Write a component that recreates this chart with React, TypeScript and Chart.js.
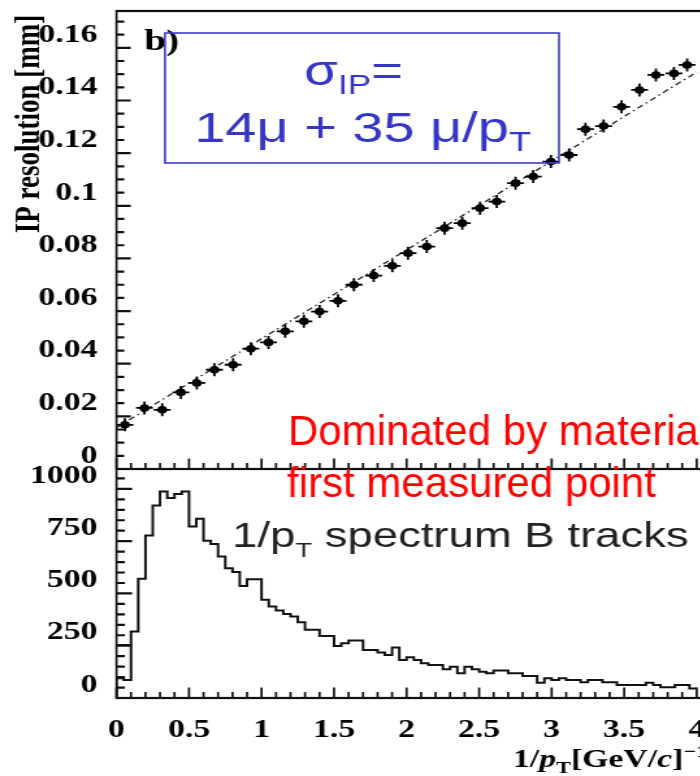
import React, { useEffect, useRef } from 'react';
import { Chart, registerables } from 'chart.js';

Chart.register(...registerables);

// The original figure is stretched horizontally; the canvas is drawn narrow and widened by CSS.
const STRETCH = 1.3;
const CANVAS_W = 600;
const CANVAS_H = 776;

// ---- Top panel: IP resolution [mm] vs 1/pT ----
const ipX = [0.058, 0.193, 0.315, 0.444, 0.554, 0.675, 0.804, 0.926, 1.048, 1.163, 1.292, 1.4, 1.527,
  1.637, 1.773, 1.902, 2.01, 2.139, 2.262, 2.384, 2.506, 2.622, 2.751, 2.873, 2.995, 3.12, 3.233,
  3.358, 3.482, 3.606, 3.719, 3.843, 3.934];
const ipY = [0.0168, 0.0232, 0.0225, 0.0291, 0.0327, 0.0377, 0.0396, 0.0457, 0.0481, 0.0523, 0.0561,
  0.0598, 0.0639, 0.07, 0.0735, 0.0772, 0.082, 0.0845, 0.0915, 0.0934, 0.0991, 0.1016, 0.1086, 0.1111,
  0.1168, 0.1193, 0.1291, 0.1303, 0.1376, 0.144, 0.1497, 0.1503, 0.1535];
const fitX = [0, 4.0];
const fitY = [0.0157, 0.1508];

// ---- Bottom panel: 1/pT spectrum of B tracks ----
const BIN_WIDTH = 0.05;
const trackCounts = [95, 86, 318, 570, 777, 921, 988, 956, 975, 988,
  820, 857, 752, 736, 677, 621, 602, 535, 568, 568,
  470, 437, 418, 402, 390, 362, 326, 326, 297, 297,
  249, 262, 275, 275, 230, 230, 217, 206, 241, 182,
  195, 182, 166, 158, 158, 137, 150, 118, 150, 137,
  126, 118, 131, 131, 118, 118, 105, 105, 73, 94,
  86, 94, 86, 86, 75, 86, 86, 75, 75, 62,
  62, 62, 62, 73, 62, 51, 51, 62, 62, 46];
const extraX = [0, 0.1];
const extraY = [254, 254];

// ---- Axis ranges and ticks ----
const X_MIN = 0, X_MAX = 4.5;
const IP_MIN = 0, IP_MAX = 0.174;
const COUNT_MIN = 0, COUNT_MAX = 1095;
const xTickValues = [0, 0.5, 1, 1.5, 2, 2.5, 3, 3.5, 4];
const xTickLabels = ['0', '0.5', '1', '1.5', '2', '2.5', '3', '3.5', '4'];
const ipTickValues = [0, 0.02, 0.04, 0.06, 0.08, 0.1, 0.12, 0.14, 0.16];
const ipTickLabels = ['0', '0.02', '0.04', '0.06', '0.08', '0.1', '0.12', '0.14', '0.16'];
const countTickValues = [0, 250, 500, 750, 1000];
const countTickLabels = ['0', '250', '500', '750', '1000'];

const X_MINOR = 0.1, X_MAJOR_EVERY = 5;
const IP_MINOR = 0.005, IP_MAJOR_EVERY = 4;
const COUNT_MINOR = 50, COUNT_MAJOR_EVERY = 5;

const SERIF = '"Liberation Serif", "Times New Roman", serif';
const SANS = '"Liberation Sans", Arial, sans-serif';

type Run = { t: string; f: string; dy?: number };
function drawRuns(ctx: CanvasRenderingContext2D, runs: Run[], x: number, y: number, center: boolean) {
  let w = 0;
  for (const r of runs) { ctx.font = r.f; w += ctx.measureText(r.t).width; }
  let cx = center ? x - w / 2 : x;
  ctx.textAlign = 'left';
  ctx.textBaseline = 'alphabetic';
  for (const r of runs) {
    ctx.font = r.f;
    ctx.fillText(r.t, cx, y + (r.dy || 0));
    cx += ctx.measureText(r.t).width;
  }
}

function minorValues(min: number, max: number, step: number): number[] {
  const out: number[] = [];
  const n = Math.floor((max - min) / step + 1e-6);
  for (let i = 0; i <= n; i++) out.push(min + i * step);
  return out;
}

const framePlugin = {
  id: 'framePlugin',
  afterDraw(chart: any) {
    const ctx: CanvasRenderingContext2D = chart.ctx;
    const xs = chart.scales.x, yt = chart.scales.yTop, yb = chart.scales.yBot;
    const area = chart.chartArea;
    const left = area.left, right = area.right;
    const topY = yt.top, midY = yt.bottom, botY = yb.bottom;
    ctx.save();
    ctx.setLineDash([]);
    // inward tick marks
    ctx.beginPath();
    minorValues(IP_MIN, IP_MAX, IP_MINOR).forEach((v, i) => {
      const py = yt.getPixelForValue(v);
      const len = i % IP_MAJOR_EVERY === 0 ? 11 : 6;
      ctx.rect(left, py - 1.1, len, 2.2);
    });
    minorValues(COUNT_MIN, COUNT_MAX, COUNT_MINOR).forEach((v, i) => {
      const py = yb.getPixelForValue(v);
      const len = i % COUNT_MAJOR_EVERY === 0 ? 12 : 6.5;
      ctx.rect(left, py - 1.1, len, 2.2);
    });
    minorValues(X_MIN, X_MAX, X_MINOR).forEach((v, i) => {
      const px = xs.getPixelForValue(v);
      const len = i % X_MAJOR_EVERY === 0 ? 10.5 : 6;
      ctx.rect(px - 0.85, midY - len, 1.7, len);
      ctx.rect(px - 0.85, botY - len, 1.7, len);
    });
    ctx.fillStyle = '#111';
    ctx.fill();
    // frame
    ctx.fillRect(left, topY - 1.1, right - left, 2.2);
    ctx.fillRect(left, midY - 1.1, right - left, 2.2);
    ctx.fillRect(left, botY - 1.1, right - left, 2.2);
    ctx.fillRect(left - 0.85, topY - 1.1, 1.7, botY - topY + 2.2);

    // y axis title
    ctx.fillStyle = '#000';
    ctx.save();
    ctx.translate(23, 124);
    ctx.rotate(-Math.PI / 2);
    ctx.font = `bold 27px ${SERIF}`;
    ctx.textAlign = 'center';
    ctx.textBaseline = 'middle';
    ctx.fillText('IP resolution [mm]', 0, 0);
    ctx.restore();
    // panel label
    ctx.font = `bold 30px ${SERIF}`;
    ctx.textAlign = 'left';
    ctx.textBaseline = 'alphabetic';
    ctx.fillText('b)', 111, 50);
    // blue box with parametrisation
    ctx.strokeStyle = '#3c3cc8';
    ctx.lineWidth = 1.6;
    ctx.strokeRect(126.9, 33, 303.1, 130);
    ctx.fillStyle = '#3535c8';
    drawRuns(ctx, [
      { t: 'σ', f: `42px ${SANS}` },
      { t: 'IP', f: `27px ${SANS}`, dy: 9 },
      { t: '=', f: `42px ${SANS}` },
    ], 272, 85, true);
    drawRuns(ctx, [
      { t: '14μ + 35 μ/p', f: `43px ${SANS}` },
      { t: 'T', f: `28px ${SANS}`, dy: 9 },
    ], 279, 142, true);
    // histogram caption
    ctx.fillStyle = '#222';
    drawRuns(ctx, [
      { t: '1/p', f: `35px ${SANS}` },
      { t: 'T', f: `21px ${SANS}`, dy: 10 },
      { t: ' spectrum B tracks', f: `35px ${SANS}` },
    ], 178.5, 547, false);
    // x axis title
    ctx.fillStyle = '#000';
    drawRuns(ctx, [
      { t: '1/', f: `bold 26px ${SERIF}` },
      { t: 'p', f: `italic bold 26px ${SERIF}` },
      { t: 'T', f: `bold 17px ${SERIF}`, dy: 6 },
      { t: '[GeV/', f: `bold 26px ${SERIF}` },
      { t: 'c', f: `italic bold 26px ${SERIF}` },
      { t: ']', f: `bold 26px ${SERIF}` },
      { t: '−1', f: `bold 17px ${SERIF}`, dy: -10 },
    ], 394.6, 767, false);
    // red annotation (added on top of the figure, not stretched)
    ctx.save();
    ctx.scale(1 / STRETCH, 1);
    ctx.fillStyle = '#ff0000';
    ctx.font = `42px ${SANS}`;
    ctx.textAlign = 'left';
    ctx.textBaseline = 'alphabetic';
    ctx.fillText('Dominated by material before', 288, 445);
    ctx.fillText('first measured point', 287, 497);
    ctx.restore();
    ctx.restore();
  },
};

const tickFont = { family: SERIF, size: 26, weight: 'bold' as const };

export default function App() {
  const ref = useRef<HTMLCanvasElement>(null);
  useEffect(() => {
    const ipPoints = ipX.map((x, i) => ({ x, y: ipY[i] }));
    const fitPoints = fitX.map((x, i) => ({ x, y: fitY[i] }));
    const histPoints = [{ x: 0, y: 0 }];
    trackCounts.forEach((c, i) => histPoints.push({ x: i * BIN_WIDTH, y: c }));
    histPoints.push({ x: trackCounts.length * BIN_WIDTH, y: trackCounts[trackCounts.length - 1] });
    const extraPoints = extraX.map((x, i) => ({ x, y: extraY[i] }));

    const chart = new Chart(ref.current!, {
      type: 'line',
      data: {
        datasets: [
          {
            data: ipPoints, yAxisID: 'yTop', showLine: false, pointStyle: 'circle',
            pointRadius: 3.8, pointBackgroundColor: '#000', pointBorderColor: '#000', pointBorderWidth: 0,
          },
          {
            data: ipPoints, yAxisID: 'yTop', showLine: false, pointStyle: 'cross',
            pointRadius: 6.5, pointBorderColor: '#000', pointBorderWidth: 1.8,
          },
          {
            data: fitPoints, yAxisID: 'yTop', borderColor: '#222', borderWidth: 1.3,
            borderDash: [5, 3, 1.5, 3], pointRadius: 0, fill: false,
          },
          {
            data: histPoints, yAxisID: 'yBot', stepped: 'before', borderColor: '#111',
            borderWidth: 2, pointRadius: 0, fill: false,
          },
          {
            data: extraPoints, yAxisID: 'yBot', borderColor: '#111',
            borderWidth: 2, pointRadius: 0, fill: false,
          },
        ],
      },
      options: {
        responsive: false,
        animation: false,
        events: [],
        layout: { padding: { top: 11, left: 0, right: 0, bottom: 0 } },
        plugins: { legend: { display: false }, tooltip: { enabled: false } },
        scales: {
          x: {
            type: 'linear', min: X_MIN, max: X_MAX,
            grid: { display: false }, border: { display: false },
            afterBuildTicks: (s: any) => { s.ticks = xTickValues.map((v) => ({ value: v })); },
            afterFit: (s: any) => { s.height = 78; s.paddingLeft = 0; s.paddingRight = 0; },
            ticks: {
              autoSkip: false, maxRotation: 0, padding: 9, color: '#000', font: tickFont,
              callback: (_v: any, i: number) => xTickLabels[i],
            },
          },
          yBot: {
            type: 'linear', position: 'left', stack: 'panels', stackWeight: 1,
            min: COUNT_MIN, max: COUNT_MAX,
            grid: { display: false }, border: { display: false },
            afterBuildTicks: (s: any) => { s.ticks = countTickValues.map((v) => ({ value: v })); },
            afterFit: (s: any) => { s.width = 89.6; s.paddingTop = 0; s.paddingBottom = 0; },
            ticks: {
              autoSkip: false, padding: 6.6, labelOffset: -13, color: '#000', font: tickFont,
              callback: (_v: any, i: number) => countTickLabels[i],
            },
          },
          yTop: {
            type: 'linear', position: 'left', stack: 'panels', stackWeight: 2,
            min: IP_MIN, max: IP_MAX,
            grid: { display: false }, border: { display: false },
            afterBuildTicks: (s: any) => { s.ticks = ipTickValues.map((v) => ({ value: v })); },
            afterFit: (s: any) => { s.width = 89.6; s.paddingTop = 0; s.paddingBottom = 0; },
            ticks: {
              autoSkip: false, padding: 6.6, labelOffset: -13, color: '#000', font: tickFont,
              callback: (_v: any, i: number) => ipTickLabels[i],
            },
          },
        },
      },
      plugins: [framePlugin],
    } as any);
    return () => chart.destroy();
  }, []);

  return (
    <div style={{ position: 'absolute', left: 0, top: 0, width: 700, height: 776, overflow: 'hidden', background: '#fff' }}>
      <canvas
        ref={ref}
        width={CANVAS_W}
        height={CANVAS_H}
        style={{ width: `${CANVAS_W * STRETCH}px`, height: `${CANVAS_H}px`, display: 'block' }}
      />
    </div>
  );
}
